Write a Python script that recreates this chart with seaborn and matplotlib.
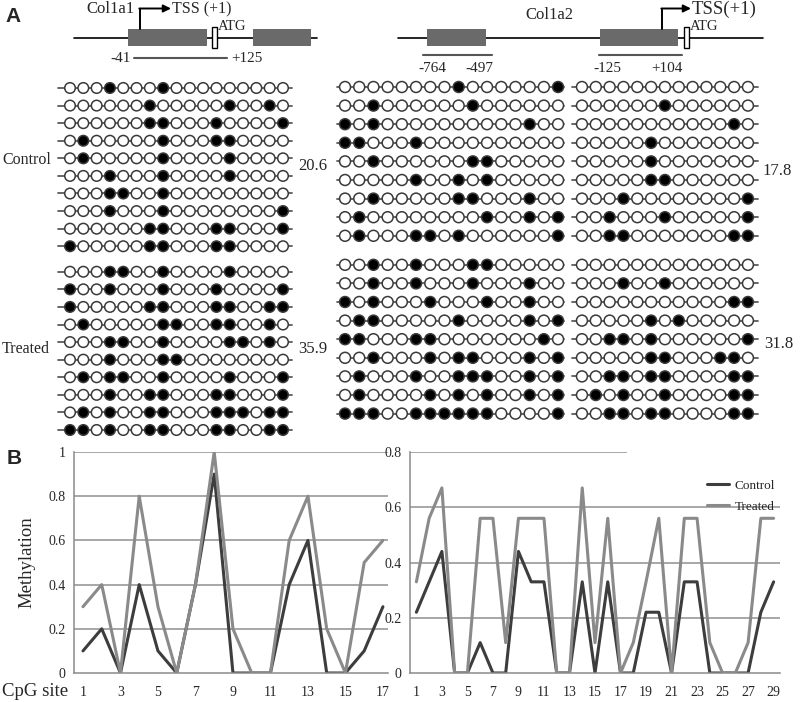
#!/usr/bin/env python3
"""Bisulfite sequencing of Col1a1 / Col1a2 promoters and per-site methylation."""
import matplotlib
matplotlib.use("Agg")
import matplotlib.pyplot as plt
from matplotlib.patches import Rectangle
import pandas as pd
import seaborn as sns

W, H = 800, 702

# ---- panel A: methylated CpG sites per clone (1-based site numbers) ----
col1a1_control = [
    [4, 8], [7, 13, 16], [7, 8, 12, 17], [2, 8, 12, 13], [2, 8, 13],
    [4, 8, 13], [4, 5, 8], [4, 8, 17], [7, 8, 12, 13, 17], [1, 7, 8, 12, 13],
]
col1a1_treated = [
    [4, 5, 8, 13], [1, 4, 8, 12, 17], [1, 7, 8, 12, 13, 16, 17],
    [2, 8, 9, 12, 13, 16], [4, 5, 8, 13, 14, 16], [4, 8, 9],
    [2, 4, 5, 8, 13, 17], [4, 7, 8, 12, 13, 17],
    [2, 4, 7, 8, 12, 13, 14, 16, 17], [1, 2, 4, 7, 8, 12, 13, 16, 17],
]
col1a2_control = [
    [9, 16], [3, 10, 23], [1, 3, 14, 28], [1, 2, 6, 22], [3, 10, 11, 22],
    [6, 9, 11, 22, 23], [3, 9, 10, 14, 20, 29], [2, 11, 14, 16, 19, 23, 29],
    [2, 6, 7, 9, 16, 19, 20, 28, 29],
]
col1a2_treated = [
    [3, 6, 10, 11], [3, 6, 10, 14, 20, 23], [1, 3, 7, 11, 14, 28, 29],
    [2, 3, 9, 14, 16, 22, 24], [1, 2, 6, 7, 15, 19, 20, 22, 29],
    [3, 7, 9, 10, 14, 16, 22, 23, 27, 28],
    [2, 6, 9, 10, 11, 14, 16, 19, 20, 22, 23, 28, 29],
    [2, 7, 9, 11, 14, 16, 18, 20, 23, 28, 29],
    [1, 2, 3, 6, 7, 8, 9, 10, 11, 16, 19, 20, 22, 23, 28, 29],
]
pct_labels = {"a1_control": "20.6", "a1_treated": "35.9",
              "a2_control": "17.8", "a2_treated": "31.8"}

# ---- panel B: methylation level per CpG site ----
a1_sites = list(range(1, 18))
a1_control = [0.1, 0.2, 0, 0.4, 0.1, 0, 0.4, 0.9, 0, 0, 0, 0.4, 0.6, 0, 0, 0.1, 0.3]
a1_treated = [0.3, 0.4, 0, 0.8, 0.3, 0, 0.4, 1.0, 0.2, 0, 0, 0.6, 0.8, 0.2, 0, 0.5, 0.6]
a2_sites = list(range(1, 30))
a2_control = [0.22, 0.33, 0.44, 0, 0, 0.11, 0, 0, 0.44, 0.33, 0.33, 0, 0, 0.33, 0,
              0.33, 0, 0, 0.22, 0.22, 0, 0.33, 0.33, 0, 0, 0, 0, 0.22, 0.33]
a2_treated = [0.33, 0.56, 0.67, 0, 0, 0.56, 0.56, 0.11, 0.56, 0.56, 0.56, 0, 0, 0.67,
              0.11, 0.56, 0, 0.11, 0.33, 0.56, 0, 0.56, 0.56, 0.11, 0, 0, 0.11, 0.56, 0.56]
a1_yticks = [0, 0.2, 0.4, 0.6, 0.8, 1.0]
a1_yticklabels = ["0", "0.2", "0.4", "0.6", "0.8", "1"]
a2_yticks = [0, 0.2, 0.4, 0.6, 0.8]
a2_yticklabels = ["0", "0.2", "0.4", "0.6", "0.8"]

SERIF = ["Liberation Serif", "DejaVu Serif"]
SANS = ["Liberation Sans", "DejaVu Sans"]
GREY_BOX = "#6a6a6a"
LINE_COLORS = {"Control": "#3d3d3d", "Treated": "#8a8a8a"}


def px_axes(fig, x0, y0, x1, y1):
    return fig.add_axes([x0 / W, 1 - y1 / H, (x1 - x0) / W, (y1 - y0) / H])


def lollipop_frame(control, treated, n_sites, gap):
    rows = []
    for group, block, start in [("Control", control, 0.0), ("Treated", treated, len(control) + gap)]:
        for k, filled in enumerate(block):
            for s in range(1, n_sites + 1):
                rows.append({"group": group, "row": start + k, "site": s,
                             "state": "m" if s in filled else "u"})
    return pd.DataFrame(rows)


def draw_lollipop(ax, df, lo, hi, xlim, ylim, ext, size):
    sub = df[df["site"].between(lo, hi)]
    for y in sub["row"].unique():
        ax.plot([lo - ext[0], hi + ext[1]], [y, y], color="#5a5a5a", lw=1.3, zorder=1)
    sns.scatterplot(data=sub, x="site", y="row", hue="state",
                    palette={"m": "black", "u": "white"}, edgecolor="#3a3a3a",
                    linewidth=1.1, s=size, legend=False, ax=ax, zorder=3)
    ax.set_xlim(*xlim)
    ax.set_ylim(*ylim)
    ax.axis("off")


def gene_header(ax, line, boxes, atg, tss_x, tss_text, tss_end, tss_size, name, name_xy):
    ax.plot(line, [37.5, 37.5], color="black", lw=1.2, zorder=1)
    for x0, w in boxes:
        ax.add_patch(Rectangle((x0, 28.5), w, 17.5, facecolor=GREY_BOX, edgecolor="none", zorder=2))
    ax.add_patch(Rectangle((atg, 27), 5, 21, facecolor="white", edgecolor="black", lw=1, zorder=2))
    ax.plot([tss_x, tss_x], [28.5, 8.5], color="black", lw=1.4)
    ax.annotate("", xy=(tss_end, 8.5), xytext=(tss_x - 0.7, 8.5),
                arrowprops=dict(arrowstyle="-|>", color="black", lw=1.4, mutation_scale=11,
                                shrinkA=0, shrinkB=0))
    ax.text(tss_end + 1, 9, tss_text, fontsize=tss_size, ha="left", va="center", family=SERIF)
    ax.text(atg + 6, 26, "ATG", fontsize=10.5, ha="left", va="center", family=SERIF)
    ax.text(*name_xy, name, fontsize=12, ha="left", va="center", family=SERIF)


def style_chart(ax, n_sites, xmax, ymax, yticks, yticklabels, top_grid_end=None):
    ax.set_xlim(0.5, xmax)
    ax.set_ylim(0, ymax)
    ax.set_yticks(yticks)
    ax.set_yticklabels(yticklabels)
    ax.set_xticks(list(range(1, n_sites + 1, 2)))
    ax.set_xticks([s + 0.5 for s in range(0, n_sites)], minor=True)
    ax.tick_params(axis="x", which="major", length=0, pad=9, labelsize=10)
    ax.tick_params(axis="x", which="minor", length=4, color="#808080", direction="out")
    ax.tick_params(axis="y", length=3, color="#808080", labelsize=10, pad=3)
    for t in ax.get_xticklabels() + ax.get_yticklabels():
        t.set_family(SERIF)
    for side in ["top", "right"]:
        ax.spines[side].set_visible(False)
    for side in ["left", "bottom"]:
        ax.spines[side].set_color("#8a8a8a")
        ax.spines[side].set_linewidth(1.1)
    grid_levels = [v for v in yticks if v > 0]
    for v in grid_levels:
        end = xmax
        if top_grid_end is not None and v == grid_levels[-1]:
            end = top_grid_end
        ax.hlines(v, 0.5, end, color="#909090", lw=1.1, zorder=0)
    ax.set_xlabel("")
    ax.set_ylabel("")


def main():
    sns.set_style("white")
    plt.rcParams["font.family"] = SERIF
    fig = plt.figure(figsize=(W / 100, H / 100), dpi=100)

    over = fig.add_axes([0, 0, 1, 1])
    over.set_xlim(0, W)
    over.set_ylim(H, 0)
    over.axis("off")

    # panel letters
    over.text(5, 17, "A", fontsize=15, fontweight="bold", family=SANS, va="center")
    over.text(7, 458, "B", fontsize=15, fontweight="bold", family=SANS, va="center")

    # gene structure headers
    gene_header(over, [74, 317], [(128, 79), (253, 58)], 212, 140, "TSS (+1)", 171, 11.5,
                "Col1a1", (86, 9))
    over.plot([134, 227], [58, 58], color="#555555", lw=1.5)
    over.text(131, 58, "-41", fontsize=11, ha="right", va="center")
    over.text(231, 58, "+125", fontsize=11, ha="left", va="center")

    gene_header(over, [398, 763], [(427, 59), (600, 78)], 684, 662, "TSS(+1)", 691, 13.5,
                "Col1a2", (525, 15))
    over.plot([423, 492], [55, 55], color="#555555", lw=1.5)
    over.plot([599, 682], [55, 55], color="#555555", lw=1.5)
    for x, t in [(432, "-764"), (479, "-497"), (607, "-125"), (667, "+104")]:
        over.text(x, 69, t, fontsize=11, ha="center", va="center")

    # group labels and percentages
    over.text(2, 160, "Control", fontsize=11.5, ha="left", va="center")
    over.text(2, 349, "Treated", fontsize=11.5, ha="left", va="center")
    over.text(298, 166, pct_labels["a1_control"], fontsize=12, ha="left", va="center")
    over.text(298, 349, pct_labels["a1_treated"], fontsize=12, ha="left", va="center")
    over.text(762, 171, pct_labels["a2_control"], fontsize=12, ha="left", va="center")
    over.text(764, 344, pct_labels["a2_treated"], fontsize=12, ha="left", va="center")

    # lollipop blocks
    df1 = lollipop_frame(col1a1_control, col1a1_treated, 17, 0.45)
    ax_l = px_axes(fig, 56.7, 79.2, 296.3, 438.8)
    draw_lollipop(ax_l, df1, 1, 17, (0, 18), (19.95, -0.5), (0.9, 0.65), 58)

    df2 = lollipop_frame(col1a2_control, col1a2_treated, 29, 0.56)
    ax_r1 = px_axes(fig, 335.1, 77.7, 568.0, 422.9)
    draw_lollipop(ax_r1, df2, 1, 16, (0.3, 16.7), (18.06, -0.5), (0.6, 0.45), 62)
    ax_r2 = px_axes(fig, 570.9, 77.7, 759.0, 422.9)
    draw_lollipop(ax_r2, df2, 17, 29, (16.2, 29.8), (18.06, -0.5), (0.72, 0.72), 62)

    # panel B line charts
    b1 = pd.DataFrame({"site": a1_sites * 2, "value": a1_control + a1_treated,
                       "group": ["Control"] * 17 + ["Treated"] * 17})
    b2 = pd.DataFrame({"site": a2_sites * 2, "value": a2_control + a2_treated,
                       "group": ["Control"] * 29 + ["Treated"] * 29})

    axb1 = px_axes(fig, 73.6, 452, 388, 673)
    sns.lineplot(data=b1, x="site", y="value", hue="group", hue_order=["Control", "Treated"],
                 palette=LINE_COLORS, lw=2.2, legend=False, ax=axb1)
    style_chart(axb1, 17, 17.27, 1.0, a1_yticks, a1_yticklabels)
    axb1.set_ylabel("Methylation", fontsize=13.5, family=SERIF)
    axb1.yaxis.set_label_coords(-0.12, 0.5)

    axb2 = px_axes(fig, 410, 452, 780, 673)
    sns.lineplot(data=b2, x="site", y="value", hue="group", hue_order=["Control", "Treated"],
                 palette=LINE_COLORS, lw=2.2, ax=axb2)
    style_chart(axb2, 29, 29.5, 0.8, a2_yticks, a2_yticklabels, top_grid_end=17.5)
    handles, labels = axb2.get_legend_handles_labels()
    leg = axb2.legend(handles, labels, loc="upper right", bbox_to_anchor=(1.0, 0.9),
                      frameon=False, fontsize=9.5, handlelength=1.7, handletextpad=0.4,
                      labelspacing=0.7, borderaxespad=0)
    for t in leg.get_texts():
        t.set_family(SERIF)

    over.text(2, 692, "CpG site", fontsize=13.5, ha="left", va="center")

    fig.savefig("out.png", dpi=100)
    plt.close(fig)


if __name__ == "__main__":
    main()
